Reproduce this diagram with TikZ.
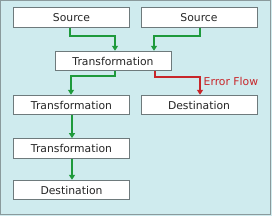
\documentclass[tikz,border=0pt]{standalone}
\usepackage{fontspec}
\setmainfont{DejaVu Sans}
\usetikzlibrary{arrows.meta}
\definecolor{bgcyan}{HTML}{CFEBEE}
\definecolor{frame}{HTML}{8A9A9C}
\definecolor{boxline}{HTML}{6E7A7C}
\definecolor{flowgreen}{HTML}{1E9A3C}
\definecolor{flowred}{HTML}{C8262A}
\tikzset{
  box/.style={draw=boxline, line width=0.9pt, fill=white, minimum width=116pt, minimum height=19.5pt, inner sep=0pt, font=\fontsize{10.8}{12}\selectfont, text=black!85},
  flow/.style={draw=flowgreen, line width=1.3pt, -{Triangle[length=5pt,width=6pt]}},
  errflow/.style={draw=flowred, line width=1.3pt, -{Triangle[length=5pt,width=6pt]}},
}
\begin{document}
\begin{tikzpicture}[x=1pt,y=-1pt]
\useasboundingbox (0,0) rectangle (272,216);
\fill[bgcyan] (0,0) rectangle (272,216);
\draw[frame, line width=1.2pt] (0.8,0.8) rectangle (270.8,214.6);
\node[box] (s1) at (71.5,17.7) {Source};
\node[box] (s2) at (199,17.7) {Source};
\node[box] (t1) at (113,61) {Transformation};
\node[box] (t2) at (71.5,105) {Transformation};
\node[box] (d1) at (199,105) {Destination};
\node[box] (t3) at (71.5,148.3) {Transformation};
\node[box] (d2) at (71.5,190) {Destination};
\node[font=\fontsize{10.8}{12}\selectfont, text=flowred, anchor=west, inner sep=0pt] (ef) at (203.5,81) {Error Flow};
\draw[flow] (s1.south -| 70,0) |- (115,36) -- (t1.north -| 115,0);
\draw[flow] (s2.south -| 200,0) |- (154,36) -- (t1.north -| 154,0);
\draw[flow] (t1.south -| 115,0) |- (71,76) -- (t2.north -| 71,0);
\draw[errflow] (t1.south -| 155,0) |- (200,77) -- (d1.north -| 200,0);
\draw[flow] (t2.south -| 72,0) -- (t3.north -| 72,0);
\draw[flow] (t3.south -| 72,0) -- (d2.north -| 72,0);
\end{tikzpicture}
\end{document}
